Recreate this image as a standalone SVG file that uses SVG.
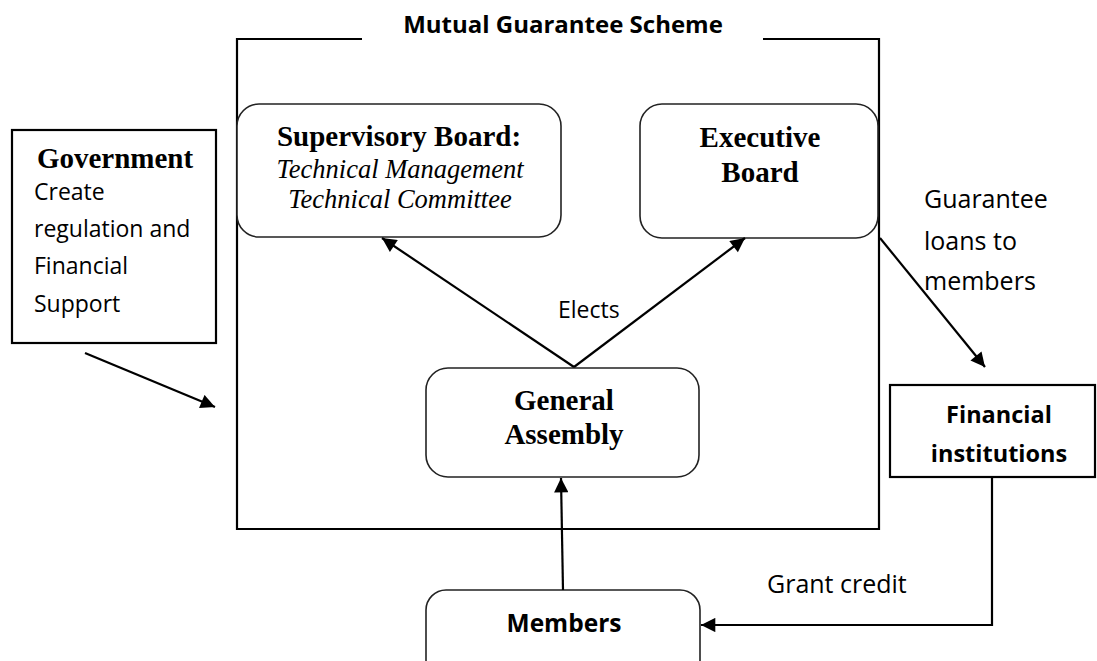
<svg xmlns="http://www.w3.org/2000/svg" width="1097" height="661" viewBox="0 0 1097 661">
<style>
.frame{fill:none;stroke:#000;stroke-width:2.2}
.rbox{fill:#fff;stroke:#222;stroke-width:1.6}
.sbox{fill:#fff;stroke:#000;stroke-width:2.2}
.conn{fill:none;stroke:#000;stroke-width:2.2}
.serifb{font-family:"Liberation Serif","Times New Roman",serif;font-weight:bold;font-size:29px;fill:#000}
.serifi{font-family:"Liberation Serif","Times New Roman",serif;font-style:italic;font-size:26.5px;fill:#000}
.sans{font-family:"Open Sans","Liberation Sans",Arial,sans-serif;fill:#000}
.sansb{font-family:"Open Sans","Liberation Sans",Arial,sans-serif;font-weight:bold;fill:#000}
</style>
<defs>
<marker id="ah" viewBox="0 0 10 10" refX="10" refY="5" markerWidth="7.5" markerHeight="6.5" markerUnits="strokeWidth" orient="auto">
<path d="M0,0 L10,5 L0,10 z" fill="#000"/>
</marker>
</defs>
<rect width="1097" height="661" fill="#fff"/>

<g id="scheme">
<path class="frame" d="M362,39 L237,39 L237,529 L879,529 L879,39 L763,39"/>
<text class="sansb" x="563" y="33" font-size="24" text-anchor="middle">Mutual Guarantee Scheme</text>
</g>

<g id="government">
<rect class="sbox" x="12" y="130" width="204" height="213"/>
<text class="serifb" x="115" y="168" text-anchor="middle">Government</text>
<text class="sans" font-size="23"><tspan x="34" y="200">Create</tspan><tspan x="34" y="237">regulation and</tspan><tspan x="34" y="274">Financial</tspan><tspan x="34" y="312">Support</tspan></text>
</g>

<g id="supervisory-board">
<rect class="rbox" x="237" y="104" width="324" height="133" rx="22" ry="22"/>
<text class="serifb" x="399" y="146" text-anchor="middle">Supervisory Board:</text>
<text class="serifi" x="400" y="178" text-anchor="middle">Technical Management</text>
<text class="serifi" x="400" y="208" text-anchor="middle">Technical Committee</text>
</g>

<g id="executive-board">
<rect class="rbox" x="640" y="104" width="238" height="134" rx="22" ry="22"/>
<text class="serifb" x="760" y="147" text-anchor="middle">Executive</text>
<text class="serifb" x="760" y="182" text-anchor="middle">Board</text>
</g>

<g id="general-assembly">
<rect class="rbox" x="426" y="368" width="273" height="109" rx="22" ry="22"/>
<text class="serifb" x="564" y="410" text-anchor="middle">General</text>
<text class="serifb" x="564" y="444" text-anchor="middle">Assembly</text>
</g>

<g id="members">
<rect class="rbox" x="426" y="590" width="274" height="90" rx="20" ry="20"/>
<text class="sansb" x="564" y="632" font-size="24.5" text-anchor="middle">Members</text>
</g>

<g id="financial-institutions">
<rect class="sbox" x="890" y="385" width="205" height="92"/>
<text class="sansb" x="999" y="423" font-size="23.5" text-anchor="middle">Financial</text>
<text class="sansb" x="999" y="462" font-size="23.5" text-anchor="middle">institutions</text>
</g>

<g id="connectors">
<line class="conn" x1="85" y1="353" x2="215" y2="407" marker-end="url(#ah)"/>
<line class="conn" x1="574" y1="367" x2="382" y2="238" marker-end="url(#ah)"/>
<line class="conn" x1="574" y1="367" x2="745" y2="238" marker-end="url(#ah)"/>
<line class="conn" x1="563" y1="590" x2="561" y2="478" marker-end="url(#ah)"/>
<line class="conn" x1="880" y1="238" x2="985" y2="367" marker-end="url(#ah)"/>
<path class="conn" d="M992,477 L992,625 L701,625" marker-end="url(#ah)"/>
<text class="sans" x="558" y="318" font-size="23">Elects</text>
<text class="sans" font-size="25"><tspan x="924" y="208">Guarantee</tspan><tspan x="924" y="250">loans to</tspan><tspan x="924" y="290">members</tspan></text>
<text class="sans" x="767" y="593" font-size="25">Grant credit</text>
</g>
</svg>
